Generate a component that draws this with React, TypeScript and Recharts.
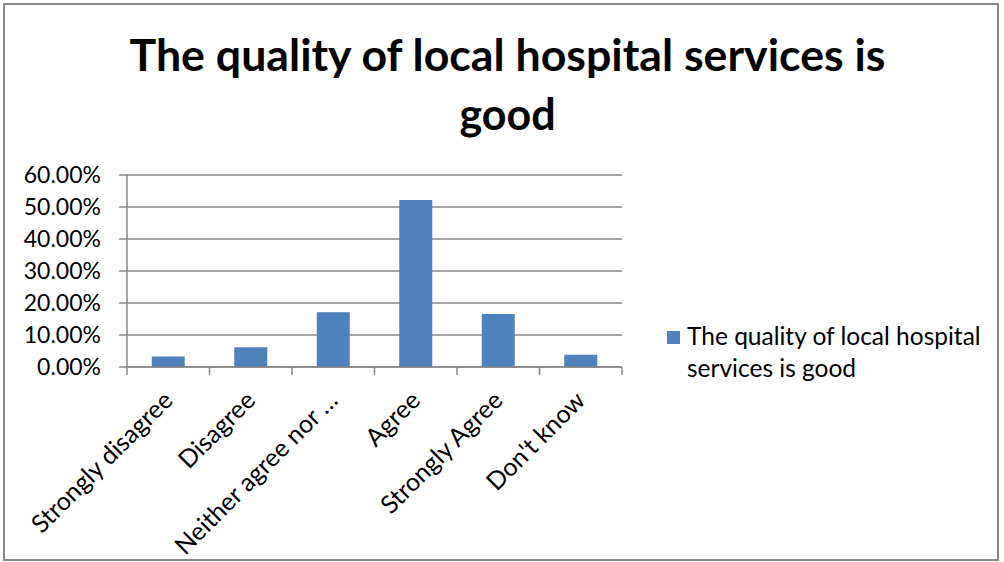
import React from "react";
import { BarChart, Bar, XAxis, YAxis, CartesianGrid, Legend } from "recharts";

// categories and values
const categories = [
  "Strongly disagree",
  "Disagree",
  "Neither agree nor …",
  "Agree",
  "Strongly Agree",
  "Don't know",
];
const shares = [0.033, 0.062, 0.171, 0.522, 0.166, 0.038];
const yTicks = [0, 0.1, 0.2, 0.3, 0.4, 0.5, 0.6];

const seriesName = "The quality of local hospital services is good";
const titleLines = ["The quality of local hospital services is", "good"];

const data = categories.map((c, i) => ({ category: c, value: shares[i] }));

const FONT = "Lato, 'Open Sans', sans-serif";
const AXIS = "#878787";
const BLUE = "#4F81BD";
const LEGEND_W = 330;

// Excel style: tick marks sit between categories, labels rotated -45
const XTick = (props: any) => {
  const { x, y, payload, index, visibleTicksCount } = props;
  const half = payload.offset || 41.25;
  const lx = x + 6;
  const ly = y + 35;
  return (
    <g>
      <line x1={x - half} x2={x - half} y1={y} y2={y + 8} stroke={AXIS} strokeWidth={1.5} />
      {index === visibleTicksCount - 1 && (
        <line x1={x + half} x2={x + half} y1={y} y2={y + 8} stroke={AXIS} strokeWidth={1.5} />
      )}
      <text
        x={lx}
        y={ly}
        transform={`rotate(-45 ${lx} ${ly})`}
        textAnchor="end"
        fontFamily={FONT}
        fontSize={25}
        fill="#000"
      >
        {payload.value}
      </text>
    </g>
  );
};

const LegendBox = (props: any) => {
  const item = (props.payload || [])[0];
  if (!item) return null;
  return (
    <div style={{ display: "flex", fontFamily: FONT, fontSize: 24.5, lineHeight: "32px", color: "#000" }}>
      <div style={{ width: 13, height: 13, background: BLUE, marginTop: 11.5, marginRight: 7, flexShrink: 0 }} />
      <div style={{ width: 310 }}>{item.value}</div>
    </div>
  );
};

export default function App() {
  return (
    <div style={{ position: "absolute", left: 0, top: 0, width: 1004, height: 562, background: "#fff" }}>
      <svg width={1004} height={562} style={{ position: "absolute", left: 0, top: 0 }}>
        <rect x={4} y={4} width={994} height={556} fill="none" stroke={AXIS} strokeWidth={2} />
        <text
          x={507.5}
          y={70.7}
          textAnchor="middle"
          fontFamily={FONT}
          fontWeight="bold"
          fontSize={43}
          textLength={756}
          lengthAdjust="spacingAndGlyphs"
        >
          {titleLines[0]}
        </text>
        <text x={507.5} y={130} textAnchor="middle" fontFamily={FONT} fontWeight="bold" fontSize={43}>
          {titleLines[1]}
        </text>
      </svg>
      <div style={{ position: "absolute", left: 0, top: 0 }}>
        <BarChart
          width={1004}
          height={562}
          data={data}
          margin={{ top: 175, right: 382 - LEGEND_W, bottom: 165, left: 0 }}
          barCategoryGap="30%"
        >
          <CartesianGrid vertical={false} stroke={AXIS} strokeWidth={1.5} />
          <XAxis
            dataKey="category"
            interval={0}
            height={30}
            axisLine={{ stroke: AXIS, strokeWidth: 1.5 }}
            tickLine={false}
            tickSize={0}
            tickMargin={0}
            tick={<XTick />}
          />
          <YAxis
            width={127}
            domain={[0, 0.6]}
            ticks={yTicks}
            interval={0}
            tickFormatter={(v: number) => `${(v * 100).toFixed(2)}%`}
            axisLine={{ stroke: AXIS, strokeWidth: 1.5 }}
            tickLine={{ stroke: AXIS, strokeWidth: 1.5 }}
            tickSize={8}
            tickMargin={18}
            tick={{ fill: "#000", fontFamily: FONT, fontSize: 23 }}
          />
          <Legend
            layout="vertical"
            align="right"
            verticalAlign="top"
            content={<LegendBox />}
            wrapperStyle={{ left: 667, top: 319.5, width: LEGEND_W }}
          />
          <Bar dataKey="value" name={seriesName} fill={BLUE} isAnimationActive={false} />
        </BarChart>
      </div>
    </div>
  );
}
